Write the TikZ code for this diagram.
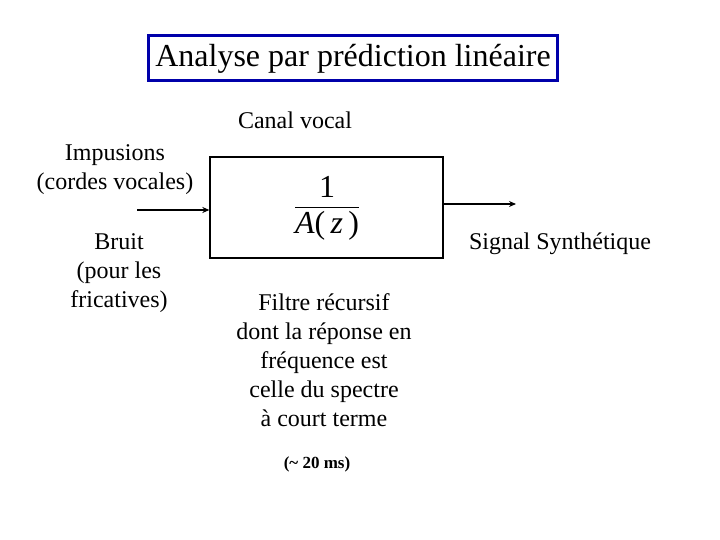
\documentclass[tikz,border=0pt]{standalone}
\usepackage{fontspec}
\setmainfont{Liberation Serif}
\usepackage{amsmath}
\usetikzlibrary{arrows.meta, positioning}
\definecolor{bleutitre}{RGB}{0, 0, 170}
\begin{document}
\begin{tikzpicture}[x=1pt, y=-1pt,
      every node/.style={font=\fontsize{24}{29}\selectfont, inner sep=0pt, align=center},
      titre/.style={draw=bleutitre, line width=3pt, minimum width=409pt, minimum height=45pt,
                    font=\fontsize{32}{38}\selectfont},
      bloc/.style={draw, line width=1.3pt, minimum width=233pt, minimum height=101pt},
      fleche/.style={line width=2pt, -{Stealth[length=7pt, width=6pt]}}]
      \useasboundingbox (0,0) rectangle (720,540);
      % Titre
      \node[titre] (titre) at (353,58.5) {Analyse par prédiction linéaire};
      % Filtre
      \node at (295,120) (canal) {Canal vocal};
      \node[bloc] (filtre) at (326.5,207.5) {};
      \node (frac) at (327,208) {\fontsize{32}{36}\selectfont
            $\dfrac{\text{1}}{\text{\itshape A}\text{(\,}\text{\itshape z}\text{\,)}}$};
      % Sources
      \node (impulsions) at (115,169.5) {Impusions\\(cordes vocales)};
      \node (bruit) at (119,273) {Bruit\\(pour les\\fricatives)};
      \coordinate (entree) at (137,210);
      \draw[fleche] (entree) -- (filtre.west |- entree);
      % Sortie
      \coordinate (sortie) at (516,204);
      \draw[fleche] (filtre.east |- sortie) -- (sortie);
      \node (signal) at (560,243.5) {Signal Synthétique};
      % Commentaire
      \node (commentaire) at (324,360) {Filtre récursif\\dont la réponse en\\fréquence est\\celle du spectre\\à court terme};
      \node (duree) at (317,464) {\fontsize{17}{20}\selectfont\bfseries (\textasciitilde{} 20 ms)};
    \end{tikzpicture}
\end{document}
